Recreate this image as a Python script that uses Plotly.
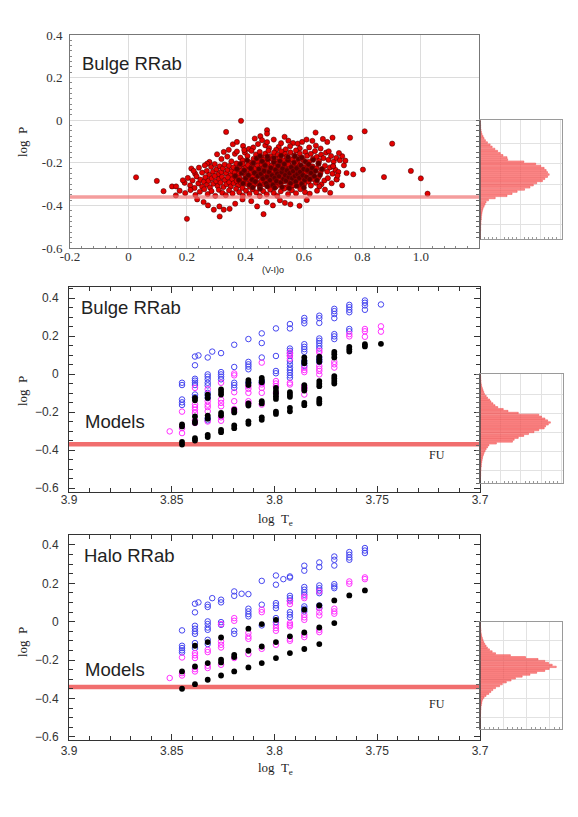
import plotly.graph_objects as go

W, H = 578, 817
OFF = 8  # default page margin around the figure

# ================= DATA =================
# Top panel: bulge RRab stars, (V-I)0 vs log P, grouped by period band
obs_upper = [(0.357,-0.113),(0.371,-0.102),(0.392,-0.121),(0.412,-0.135),(0.432,-0.086),(0.451,-0.075),
             (0.457,-0.094),(0.468,-0.118),(0.481,-0.131),(0.497,-0.091),(0.514,-0.125),(0.522,-0.108),
             (0.538,-0.137),(0.547,-0.096),(0.563,-0.107),(0.579,-0.110),(0.594,-0.102),(0.609,-0.091),
             (0.629,-0.097),(0.618,-0.128),(0.641,-0.119),(0.657,-0.133),(0.680,-0.102),(0.665,-0.088),
             (0.443,-0.112),(0.505,-0.139),(0.586,-0.132),(0.427,-0.128),(0.474,-0.103),(0.553,-0.122)]
obs_mid = [(0.303,-0.160),(0.326,-0.149),(0.318,-0.182),(0.338,-0.171),(0.352,-0.193),(0.364,-0.158),
           (0.371,-0.147),(0.383,-0.176),(0.391,-0.189),(0.398,-0.152),(0.407,-0.168),(0.414,-0.198),
           (0.421,-0.144),(0.428,-0.181),(0.436,-0.161),(0.442,-0.192),(0.449,-0.149),(0.455,-0.174),
           (0.461,-0.186),(0.468,-0.157),(0.473,-0.197),(0.479,-0.143),(0.486,-0.169),(0.492,-0.183),
           (0.498,-0.152),(0.504,-0.194),(0.511,-0.163),(0.517,-0.178),(0.523,-0.146),(0.529,-0.188),
           (0.536,-0.159),(0.541,-0.172),(0.548,-0.199),(0.554,-0.151),(0.561,-0.184),(0.567,-0.166),
           (0.573,-0.142),(0.579,-0.193),(0.586,-0.157),(0.592,-0.176),(0.598,-0.188),(0.605,-0.149),
           (0.611,-0.167),(0.618,-0.195),(0.624,-0.158),(0.631,-0.181),(0.638,-0.145),(0.644,-0.172),
           (0.652,-0.191),(0.659,-0.162),(0.667,-0.178),(0.676,-0.152),(0.684,-0.186),(0.693,-0.168),
           (0.702,-0.194),(0.711,-0.177),(0.723,-0.188),(0.277,-0.196),(0.269,-0.204),(0.343,-0.139),
           (0.396,-0.140)]
obs_core = [(0.228,-0.251),(0.241,-0.223),(0.252,-0.246),(0.261,-0.212),(0.268,-0.238),(0.276,-0.257),
            (0.283,-0.219),(0.289,-0.242),(0.295,-0.206),(0.301,-0.231),(0.307,-0.254),(0.312,-0.217),
            (0.318,-0.243),(0.323,-0.226),(0.329,-0.208),(0.334,-0.249),(0.339,-0.233),(0.344,-0.214),
            (0.349,-0.258),(0.354,-0.238),(0.359,-0.221),(0.364,-0.246),(0.369,-0.203),(0.373,-0.229),
            (0.378,-0.252),(0.382,-0.215),(0.387,-0.237),(0.391,-0.206),(0.396,-0.244),(0.400,-0.224),
            (0.405,-0.259),(0.409,-0.211),(0.413,-0.235),(0.418,-0.248),(0.422,-0.219),(0.426,-0.203),
            (0.431,-0.241),(0.435,-0.227),(0.439,-0.256),(0.443,-0.213),(0.448,-0.236),(0.452,-0.249),
            (0.456,-0.208),(0.460,-0.231),(0.465,-0.219),(0.469,-0.253),(0.473,-0.242),(0.477,-0.205),
            (0.482,-0.228),(0.486,-0.246),(0.490,-0.214),(0.494,-0.237),(0.499,-0.258),(0.503,-0.221),
            (0.507,-0.233),(0.511,-0.204),(0.516,-0.247),(0.520,-0.226),(0.524,-0.239),(0.528,-0.212),
            (0.533,-0.255),(0.537,-0.218),(0.541,-0.234),(0.546,-0.207),(0.550,-0.244),(0.555,-0.229),
            (0.559,-0.252),(0.564,-0.216),(0.568,-0.238),(0.573,-0.203),(0.577,-0.225),(0.582,-0.248),
            (0.587,-0.213),(0.592,-0.236),(0.597,-0.257),(0.602,-0.221),(0.607,-0.242),(0.612,-0.209),
            (0.618,-0.231),(0.624,-0.253),(0.630,-0.217),(0.636,-0.239),(0.643,-0.226),(0.650,-0.205),
            (0.657,-0.247),(0.664,-0.229),(0.672,-0.214),(0.680,-0.241),(0.689,-0.222),(0.698,-0.251),
            (0.708,-0.233),(0.700,-0.216),(0.718,-0.243),(0.737,-0.212),(0.746,-0.248),(0.769,-0.254),
            (0.215,-0.227),(0.223,-0.238)]
# crowded centre of the distribution (overlapping, appears dark)
obs_dense = [(0.365,-0.262),(0.371,-0.228),(0.377,-0.281),(0.382,-0.205),(0.387,-0.249),(0.392,-0.297),
             (0.396,-0.236),(0.401,-0.272),(0.406,-0.188),(0.410,-0.258),(0.414,-0.303),(0.418,-0.226),
             (0.423,-0.279),(0.427,-0.201),(0.431,-0.247),(0.434,-0.288),(0.438,-0.179),(0.442,-0.262),
             (0.446,-0.229),(0.449,-0.306),(0.453,-0.252),(0.457,-0.193),(0.460,-0.274),(0.464,-0.238),
             (0.467,-0.212),(0.471,-0.297),(0.474,-0.266),(0.477,-0.183),(0.481,-0.243),(0.484,-0.281),
             (0.487,-0.224),(0.491,-0.259),(0.494,-0.304),(0.497,-0.197),(0.500,-0.271),(0.503,-0.233),
             (0.506,-0.286),(0.509,-0.251),(0.512,-0.214),(0.515,-0.263),(0.518,-0.192),(0.521,-0.293),
             (0.524,-0.244),(0.527,-0.227),(0.530,-0.276),(0.533,-0.206),(0.536,-0.258),(0.539,-0.284),
             (0.542,-0.236),(0.545,-0.188),(0.548,-0.267),(0.551,-0.249),(0.554,-0.296),(0.557,-0.221),
             (0.560,-0.273),(0.563,-0.239),(0.566,-0.199),(0.569,-0.262),(0.572,-0.288),(0.575,-0.226),
             (0.578,-0.254),(0.581,-0.181),(0.584,-0.271),(0.587,-0.243),(0.590,-0.212),(0.593,-0.299),
             (0.596,-0.259),(0.599,-0.229),(0.602,-0.281),(0.605,-0.194),(0.609,-0.266),(0.612,-0.235),
             (0.616,-0.207),(0.620,-0.277),(0.624,-0.248),(0.628,-0.224),(0.632,-0.186),(0.636,-0.263),
             (0.640,-0.238),(0.645,-0.282),(0.650,-0.203),(0.655,-0.257),(0.661,-0.229),(0.475,-0.171),
             (0.498,-0.177),(0.522,-0.166),(0.546,-0.173),(0.569,-0.169),(0.593,-0.176),(0.450,-0.168),
             (0.425,-0.316),(0.450,-0.322),(0.475,-0.311),(0.500,-0.318),(0.525,-0.314),(0.550,-0.319),
             (0.575,-0.309),(0.600,-0.316)]
obs_lower = [(0.192,-0.294),(0.203,-0.271),(0.211,-0.306),(0.219,-0.283),(0.226,-0.318),(0.233,-0.264),
             (0.239,-0.297),(0.246,-0.279),(0.252,-0.312),(0.258,-0.289),(0.263,-0.268),(0.269,-0.303),
             (0.274,-0.284),(0.279,-0.316),(0.285,-0.273),(0.290,-0.298),(0.295,-0.262),(0.300,-0.287),
             (0.305,-0.309),(0.310,-0.276),(0.315,-0.293),(0.320,-0.266),(0.325,-0.314),(0.330,-0.281),
             (0.335,-0.301),(0.340,-0.269),(0.345,-0.292),(0.350,-0.311),(0.355,-0.277),(0.360,-0.296),
             (0.365,-0.263),(0.370,-0.285),(0.375,-0.307),(0.380,-0.272),(0.385,-0.294),(0.390,-0.318),
             (0.395,-0.281),(0.400,-0.265),(0.405,-0.299),(0.410,-0.276),(0.415,-0.312),(0.420,-0.288),
             (0.425,-0.267),(0.430,-0.303),(0.435,-0.279),(0.440,-0.294),(0.445,-0.262),(0.450,-0.316),
             (0.455,-0.285),(0.460,-0.271),(0.465,-0.301),(0.470,-0.289),(0.475,-0.264),(0.480,-0.308),
             (0.485,-0.277),(0.490,-0.296),(0.495,-0.283),(0.500,-0.268),(0.505,-0.311),(0.510,-0.291),
             (0.515,-0.274),(0.520,-0.302),(0.526,-0.263),(0.532,-0.287),(0.538,-0.315),(0.544,-0.279),
             (0.550,-0.297),(0.556,-0.269),(0.562,-0.306),(0.568,-0.284),(0.574,-0.266),(0.580,-0.293),
             (0.587,-0.312),(0.594,-0.278),(0.601,-0.299),(0.608,-0.271),(0.616,-0.289),(0.624,-0.307),
             (0.632,-0.276),(0.641,-0.294),(0.650,-0.268),(0.660,-0.301),(0.670,-0.283),(0.682,-0.272),
             (0.695,-0.296),(0.712,-0.278),(0.731,-0.306),(0.653,-0.311),(0.186,-0.282),(0.149,-0.311),
             (0.163,-0.311)]
obs_tail = [(0.175,-0.331),(0.194,-0.342),(0.212,-0.328),(0.229,-0.351),(0.244,-0.336),(0.259,-0.324),
            (0.271,-0.347),(0.284,-0.333),(0.297,-0.355),(0.309,-0.327),(0.321,-0.341),(0.333,-0.352),
            (0.344,-0.329),(0.356,-0.344),(0.368,-0.322),(0.379,-0.338),(0.391,-0.354),(0.402,-0.331),
            (0.414,-0.346),(0.425,-0.325),(0.437,-0.339),(0.449,-0.356),(0.461,-0.333),(0.473,-0.348),
            (0.485,-0.326),(0.497,-0.342),(0.509,-0.355),(0.521,-0.334),(0.533,-0.321),(0.546,-0.347),
            (0.559,-0.329),(0.573,-0.343),(0.588,-0.324),(0.604,-0.338),(0.620,-0.345),(0.672,-0.326),
            (0.120,-0.333),(0.162,-0.353),(0.645,-0.331),(0.690,-0.341)]
obs_below = [(0.257,-0.384),(0.272,-0.400),(0.292,-0.420),(0.311,-0.405),(0.326,-0.420),(0.346,-0.416),
             (0.365,-0.392),(0.390,-0.372),(0.420,-0.380),(0.440,-0.405),(0.462,-0.441),(0.473,-0.385),
             (0.494,-0.400),(0.518,-0.376),(0.554,-0.395),(0.585,-0.402),(0.535,-0.388),(0.312,-0.452),
             (0.200,-0.463),(0.235,-0.372),(0.610,-0.375)]
obs_outliers = [(0.026,-0.268),(0.097,-0.285),(0.334,-0.055),(0.385,-0.003),(0.474,-0.047),(0.474,-0.063),
                (0.534,-0.078),(0.640,-0.058),(0.698,-0.082),(0.758,-0.082),(0.808,-0.052),(0.902,-0.110),
                (0.802,-0.232),(0.874,-0.267),(0.966,-0.238),(1.000,-0.273),(1.023,-0.345),(0.731,-0.169),
                (0.720,-0.154),(0.685,-0.146),(0.712,-0.278),(0.700,-0.216),(0.715,-0.260),(0.742,-0.190)]

# FU reference band (log P) and axis spans
fu_logp_top = -0.361
fu_logp_mid = -0.370
fu_logp_bot = -0.340
vi_span = [-0.2, 1.199]
te_span = [3.9, 3.7]

# Histograms of log P: bins of 0.01 from 0 down to -0.56, counts
hist_top_counts = [1,1,2,2,3,4,6,9,12,16,22,30,36,44,52,60,68,80,82,130,165,180,190,196,200,205,
                   200,192,185,168,158,148,132,110,95,80,45,25,18,15,12,9,7,6,5,4,4,3,3,2,2,2,1,1,1,1]
hist_mid_counts = [1,2,2,3,3,4,5,7,9,11,13,18,22,28,32,38,44,52,68,82,112,172,180,190,198,206,
                   200,192,188,172,158,142,128,112,100,95,48,26,22,18,15,12,10,8,7,6,5,4,4,3,3,2,2,2,1,1]
hist_bot_counts = [0,1,1,2,3,3,4,5,7,9,11,14,18,22,28,36,46,90,135,172,192,203,214,226,205,192,
                   168,148,125,105,92,78,66,58,46,38,32,26,18,12,8,6,5,4,3,3,2,2,1,1,1,0,0,0,0,0]

# Pulsation models: effective-temperature columns and log P values per column
te_cols = [3.845, 3.8387, 3.8325, 3.826, 3.8196, 3.8127, 3.8062, 3.7993, 3.7925, 3.7855,
           3.7782, 3.7709, 3.7636, 3.756, 3.7482]

mid_blue = [[-0.046,-0.058,-0.134,-0.149,-0.163],
            [0.092,0.046,-0.025,-0.035,-0.046,-0.058,-0.108,-0.122],
            [0.087,-0.002,-0.014,-0.028,-0.046,-0.060,-0.099,-0.113,-0.126,-0.232,-0.244],
            [0.110,0.010,-0.002,-0.014,-0.028],
            [0.154,0.037,-0.046,-0.058,-0.073],
            [0.184,0.064,0.051,0.039,0.025,-0.046],
            [0.214,0.163,0.087,-0.037,-0.046],
            [0.240,0.095,0.016,0.004],
            [0.263,0.240,0.134,0.122,0.108,0.095,0.069,0.051,0.034,0.021,0.007,-0.007,-0.020],
            [0.295,0.281,0.267,0.157,0.143,0.131,0.117,0.069,0.057,0.043],
            [0.307,0.294,0.269,0.187,0.175,0.163,0.148,0.134,0.087,0.074,0.064],
            [0.343,0.331,0.316,0.294,0.210,0.198,0.184],
            [0.364,0.352,0.338,0.325,0.237,0.225],
            [0.387,0.375,0.361,0.338],
            [0.366]]
mid_magenta = [[-0.198,-0.285,-0.311],
               [-0.073,-0.161,-0.174,-0.188,-0.205,-0.244,-0.258],
               [-0.080,-0.143,-0.161,-0.174,-0.196,-0.250],
               [-0.046,-0.135,-0.152,-0.170,-0.228,-0.246],
               [0.003,-0.007,-0.096,-0.143,-0.184,-0.196],
               [-0.064,-0.078,-0.099,-0.143,-0.155],
               [0.060,-0.055,-0.073,-0.099,-0.161],
               [-0.037,-0.050,-0.064,-0.100],
               [0.113,0.099,0.081,-0.046,-0.055],
               [0.033,0.021,0.010,-0.064,-0.073,-0.081,-0.108],
               [0.122,0.113,0.042,0.028,0.016,-0.002],
               [0.064,0.051,0.034],
               [0.210,0.198],
               [0.237,0.225,0.196],
               [0.251,0.223]]
mid_black = [[-0.265,-0.276,-0.357,-0.371],
             [-0.126,-0.138,-0.223,-0.248,-0.258,-0.338,-0.350],
             [-0.108,-0.126,-0.219,-0.235,-0.320,-0.332],
             [-0.081,-0.095,-0.108,-0.205,-0.219,-0.294,-0.306],
             [-0.188,-0.202,-0.271,-0.285],
             [-0.032,-0.046,-0.058,-0.155,-0.166,-0.249,-0.262],
             [-0.020,-0.032,-0.043,-0.143,-0.155,-0.228,-0.241],
             [-0.073,-0.090,-0.103,-0.117,-0.131,-0.198,-0.210],
             [-0.096,-0.108,-0.120,-0.178,-0.196],
             [0.087,0.069,0.057,-0.058,-0.073,-0.087,-0.152,-0.164],
             [0.092,0.078,0.064,-0.037,-0.051,-0.064,-0.131,-0.143,-0.155],
             [0.117,0.104,0.087,-0.011,-0.023,-0.037,-0.050],
             [0.143,0.131,0.118],
             [0.157,0.145],
             [0.159]]
mid_extra_blue_te = [3.837, 3.8303]
mid_extra_blue_logp = [0.098, 0.118]
mid_extra_mag_te = [3.851]
mid_extra_mag_logp = [-0.302]

bot_blue = [[-0.045,-0.125,-0.137,-0.149,-0.160],
            [0.094,0.049,-0.021,-0.036,-0.050,-0.063,-0.111,-0.137],
            [0.089,0.077,0.002,-0.012,-0.030,-0.042,-0.094,-0.116],
            [0.115,0.101,-0.002,-0.016],
            [0.158,0.135,-0.047,-0.063],
            [0.144,0.068,0.054,0.040,0.028],
            [0.213,0.089,-0.019],
            [0.241,0.193,0.097,0.085,0.071,0.019,-0.002],
            [0.236,0.230,0.135,0.123,0.111,0.050,0.037,0.023],
            [0.292,0.266,0.181,0.167,0.154,0.141,0.080,0.068,0.054],
            [0.309,0.285,0.189,0.175,0.163,0.149,0.085,0.071],
            [0.340,0.323,0.293,0.196,0.184,0.175],
            [0.363,0.349,0.335,0.323],
            [0.384,0.371,0.358]]
bot_magenta = [[-0.186,-0.268,-0.280],
               [-0.163,-0.175,-0.189,-0.247,-0.259],
               [-0.146,-0.158,-0.229,-0.241],
               [-0.012,-0.103,-0.120,-0.134,-0.224],
               [0.019,0.005,-0.189],
               [-0.059,-0.077,-0.089,-0.168],
               [0.063,0.050,-0.141],
               [-0.016,-0.033,-0.047,-0.120],
               [0.106,0.092,-0.007,-0.016,-0.024,-0.089,-0.099],
               [0.132,0.123,0.036,0.023,0.010,-0.068,-0.080],
               [0.158,0.071,0.049,0.033,-0.042,-0.054],
               [0.068,0.054,0.042],
               [0.210,0.198],
               [0.231,0.222]]
bot_black = [[-0.259,-0.349],
             [-0.125,-0.233,-0.325],
             [-0.106,-0.215,-0.302],
             [-0.082,-0.198,-0.212,-0.280],
             [-0.172,-0.184,-0.259],
             [-0.036,-0.151,-0.238],
             [-0.012,-0.129,-0.215],
             [0.010,-0.106,-0.189],
             [-0.076,-0.163],
             [0.063,-0.056,-0.142],
             [0.085,-0.030,-0.116],
             [0.111,-0.007],
             [0.137],
             [0.163]]
bot_extra_blue_te = [3.837, 3.8303, 3.816, 3.7957]
bot_extra_blue_logp = [0.101, 0.123, 0.146, 0.222]
bot_extra_mag_te = [3.851]
bot_extra_mag_logp = [-0.293]

# ================= HELPERS =================
def flatten(cols, groups):
    xs, ys = [], []
    for x, g in zip(cols, groups):
        for y in g:
            xs.append(x)
            ys.append(y)
    return xs, ys

def xd(p0, p1):
    return [(p0 - OFF) / W, (p1 - OFF) / W]

def yd(ptop, pbot):
    return [1 - (pbot - OFF) / H, 1 - (ptop - OFF) / H]

def pmap(panel, v):
    top, bot, lo, hi = panel
    return top + (hi - v) / (hi - lo) * (bot - top)

SERIF = "Liberation Serif"
SANS = "Liberation Sans"
BLUE = "#4646f0"
MAG = "#ff30ff"

# panel geometry (pixel top, bottom, y-range)
top_p = (35, 248, -0.6, 0.4)
mid_p = (287, 492, -0.621, 0.458)
bot_p = (535, 740, -0.616, 0.452)

fig = go.Figure()

# ---------- top panel ----------
light_obs = obs_upper + obs_mid + obs_core + obs_lower + obs_tail + obs_below + obs_outliers
fig.add_trace(go.Scatter(
    x=[p[0] for p in light_obs], y=[p[1] for p in light_obs], mode="markers",
    marker=dict(size=5.2, color="#e40000", line=dict(color="rgba(60,0,0,0.75)", width=0.7)),
    xaxis="x", yaxis="y", showlegend=False, hoverinfo="skip"))
fig.add_trace(go.Scatter(
    x=[p[0] for p in obs_dense], y=[p[1] for p in obs_dense], mode="markers",
    marker=dict(size=5.2, color="#5a0000", line=dict(color="rgba(150,0,0,0.8)", width=0.7)),
    xaxis="x", yaxis="y", showlegend=False, hoverinfo="skip"))
fig.add_trace(go.Scatter(
    x=vi_span, y=[fu_logp_top, fu_logp_top], mode="lines",
    line=dict(color="rgba(240,115,115,0.7)", width=3.5),
    xaxis="x", yaxis="y", showlegend=False, hoverinfo="skip"))

bins = [-0.005 - 0.01 * i for i in range(56)]
HIST_MARK = dict(color="rgba(255,115,115,0.75)", line=dict(color="rgba(235,60,60,0.9)", width=0.5))
fig.add_trace(go.Bar(x=hist_top_counts, y=bins, orientation="h", width=0.0075, marker=HIST_MARK,
                     xaxis="x2", yaxis="y2", showlegend=False, hoverinfo="skip"))

# ---------- model panels ----------
def add_models(xa, ya, fu, blue, mag, black, eb_x, eb_y, em_x, em_y):
    fig.add_trace(go.Scatter(x=te_span, y=[fu, fu], mode="lines",
                             line=dict(color="rgba(238,85,85,0.85)", width=4.5),
                             xaxis=xa, yaxis=ya, showlegend=False, hoverinfo="skip"))
    bx, by = flatten(te_cols, blue)
    bx += eb_x; by += eb_y
    mx, my = flatten(te_cols, mag)
    mx += em_x; my += em_y
    kx, ky = flatten(te_cols, black)
    fig.add_trace(go.Scatter(x=bx, y=by, mode="markers",
                             marker=dict(symbol="circle-open", size=5.5, color=BLUE, line=dict(width=1)),
                             xaxis=xa, yaxis=ya, showlegend=False, hoverinfo="skip"))
    fig.add_trace(go.Scatter(x=mx, y=my, mode="markers",
                             marker=dict(symbol="circle-open", size=5.5, color=MAG, line=dict(width=1)),
                             xaxis=xa, yaxis=ya, showlegend=False, hoverinfo="skip"))
    fig.add_trace(go.Scatter(x=kx, y=ky, mode="markers",
                             marker=dict(symbol="circle", size=5.8, color="#000000"),
                             xaxis=xa, yaxis=ya, showlegend=False, hoverinfo="skip"))

add_models("x3", "y3", fu_logp_mid, mid_blue, mid_magenta, mid_black,
           mid_extra_blue_te, mid_extra_blue_logp, mid_extra_mag_te, mid_extra_mag_logp)
fig.add_trace(go.Bar(x=hist_mid_counts, y=bins, orientation="h", width=0.0075, marker=HIST_MARK,
                     xaxis="x4", yaxis="y4", showlegend=False, hoverinfo="skip"))
add_models("x5", "y5", fu_logp_bot, bot_blue, bot_magenta, bot_black,
           bot_extra_blue_te, bot_extra_blue_logp, bot_extra_mag_te, bot_extra_mag_logp)
fig.add_trace(go.Bar(x=hist_bot_counts, y=bins, orientation="h", width=0.0075, marker=HIST_MARK,
                     xaxis="x6", yaxis="y6", showlegend=False, hoverinfo="skip"))

# ---------- axes ----------
top_x = dict(domain=xd(70, 479), range=vi_span, anchor="y", tick0=0, dtick=0.2, automargin=False,
             labelalias={"1": "1.0", "−0.2": "-0.2"},
             showgrid=True, gridcolor="#dcdcdc", showline=True, linecolor="#777", mirror=True,
             ticks="", zeroline=False, ticklabelstandoff=-4,
             tickfont=dict(family=SERIF, size=13, color="#333"),
             minor=dict(dtick=0.04, ticks="inside", ticklen=2, tickcolor="#888", showgrid=False))
top_y = dict(domain=yd(top_p[0], top_p[1]), range=[top_p[2], top_p[3]], anchor="x", tick0=0, dtick=0.2,
             automargin=False,
             labelalias={"−0.2": "-0.2", "−0.4": "-0.4", "−0.6": "-0.6"},
             showgrid=True, gridcolor="#dcdcdc", showline=True, linecolor="#777", mirror=True,
             ticks="", zeroline=False, ticklabelstandoff=4,
             tickfont=dict(family=SERIF, size=13, color="#333"),
             minor=dict(dtick=0.025, ticks="inside", ticklen=2, tickcolor="#888", showgrid=False))

def model_x(anchor, dom, standoff):
    return dict(domain=dom, range=te_span, anchor=anchor, tick0=3.7, dtick=0.05, automargin=False,
                showgrid=False, showline=True, linecolor="#333", linewidth=1, mirror="allticks",
                ticks="inside", ticklen=6, tickcolor="#333", zeroline=False, ticklabelstandoff=standoff,
                tickfont=dict(family=SANS, size=12, color="#333"),
                minor=dict(dtick=0.01, ticks="inside", ticklen=4, tickcolor="#333"))

def model_y(anchor, p):
    return dict(domain=yd(p[0], p[1]), range=[p[2], p[3]], anchor=anchor, tick0=0, dtick=0.2,
                automargin=False,
                showgrid=False, showline=True, linecolor="#333", linewidth=1, mirror="allticks",
                ticks="inside", ticklen=6, tickcolor="#333", zeroline=False, ticklabelstandoff=7,
                tickfont=dict(family=SANS, size=12, color="#333"),
                minor=dict(dtick=0.05, ticks="inside", ticklen=4, tickcolor="#333"))

def hist_x(anchor, dom, grid):
    return dict(domain=dom, range=[0, 243], anchor=anchor, dtick=grid, showticklabels=False,
                automargin=False,
                showgrid=True, gridcolor="#e2e2e2", showline=True, linecolor="#9a9a9a", mirror=True,
                ticks="", zeroline=False,
                minor=dict(dtick=grid / 5, ticks="inside", ticklen=2, tickcolor="#999", showgrid=False))

def hist_y(anchor, p, lo, grid_vals):
    return dict(domain=yd(pmap(p, 0.0), pmap(p, lo)), range=[lo, 0], anchor=anchor,
                tickmode="array", tickvals=grid_vals, showticklabels=False, automargin=False,
                showgrid=True, gridcolor="#e2e2e2", showline=True, linecolor="#9a9a9a", mirror=True,
                ticks="", zeroline=False,
                minor=dict(dtick=0.025, ticks="outside", ticklen=3, tickcolor="#666", showgrid=False))

fig.update_layout(
    width=W, height=H, margin=dict(l=0, r=0, t=0, b=0, autoexpand=False),
    paper_bgcolor="white", plot_bgcolor="white", showlegend=False,
    xaxis=top_x, yaxis=top_y,
    xaxis2=hist_x("y2", xd(480, 562), 60),
    yaxis2=hist_y("x2", top_p, -0.56, [-0.11, -0.205, -0.3, -0.395, -0.49]),
    xaxis3=model_x("y3", xd(69, 480), -3), yaxis3=model_y("x3", mid_p),
    xaxis4=hist_x("y4", xd(480, 563), 60),
    yaxis4=hist_y("x4", mid_p, -0.575, [-0.11, -0.21, -0.31, -0.41, -0.51]),
    xaxis5=model_x("y5", xd(69, 480), 0), yaxis5=model_y("x5", bot_p),
    xaxis6=hist_x("y6", xd(480, 562), 69),
    yaxis6=hist_y("x6", bot_p, -0.56, [-0.1, -0.2, -0.3, -0.4, -0.5]),
)

# dark left edge of each histogram frame
for p, lo, x0 in [(top_p, -0.56, 480), (mid_p, -0.575, 480), (bot_p, -0.56, 480)]:
    fig.add_shape(type="line", xref="paper", yref="paper",
                  x0=(x0 - OFF) / W, x1=(x0 - OFF) / W,
                  y0=1 - (pmap(p, lo) - OFF) / H, y1=1 - (pmap(p, 0.0) - OFF) / H,
                  line=dict(color="#555", width=1.5))

# ---------- text ----------
def ann(text, px, py, size, family, xanchor="center", angle=0, color="#222"):
    fig.add_annotation(text=text, x=(px - OFF) / W, y=1 - (py - OFF) / H, xref="paper", yref="paper",
                       xanchor=xanchor, yanchor="middle", showarrow=False, textangle=angle,
                       font=dict(size=size, family=family, color=color))

ann("Bulge RRab", 80, 63, 18.5, SANS, "left")
ann("(V-I)o", 273, 270, 9, SANS)
ann("log  P", 22, 142, 13, SERIF, angle=-90)

ann("Bulge RRab", 79, 307, 18.5, SANS, "left")
ann("Models", 83, 421, 18.5, SANS, "left")
ann("FU", 437, 455, 12, SERIF)
ann("log  P", 22, 391, 13, SERIF, angle=-90)
ann("log  T<sub>e</sub>", 275, 519, 13, SERIF)

ann("Halo RRab", 82, 555, 18.5, SANS, "left")
ann("Models", 83, 669, 18.5, SANS, "left")
ann("FU", 437, 704, 12, SERIF)
ann("log  P", 22, 642, 13, SERIF, angle=-90)
ann("log  T<sub>e</sub>", 275, 768, 13, SERIF)

fig.write_html("out.html")
